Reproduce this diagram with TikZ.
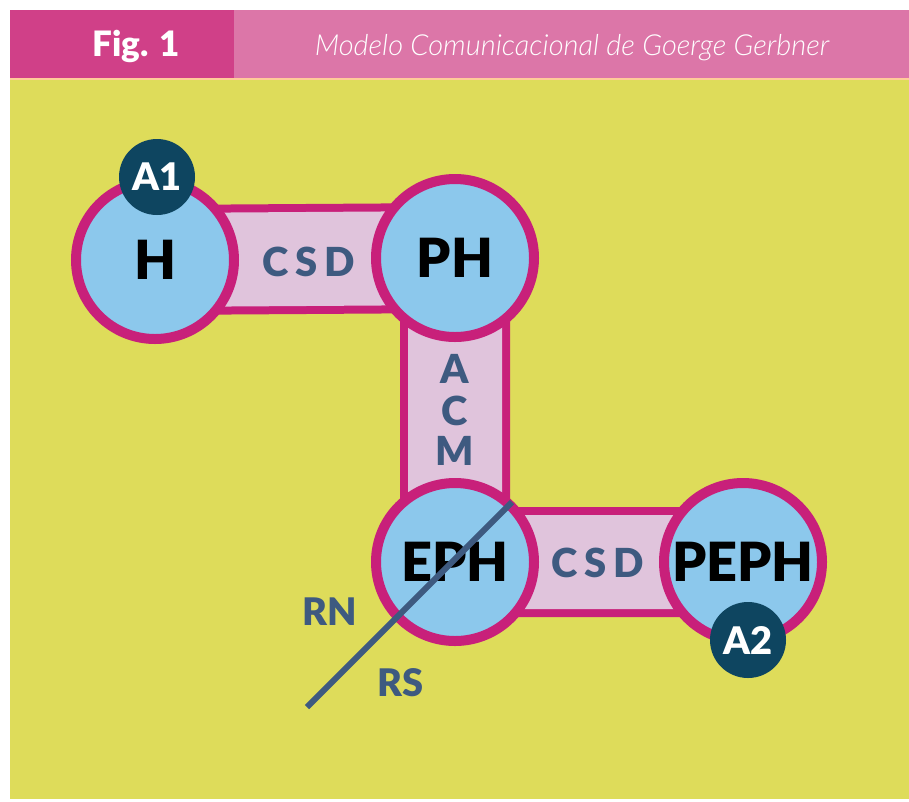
\documentclass[tikz,border=0pt]{standalone}
\usepackage{fontspec}
\usepackage{xcolor}
\usetikzlibrary{positioning}
\setmainfont{Lato}
\newfontfamily\heavyfont{Lato Black}
\newfontfamily\lightfont{Lato Light}
\definecolor{headdark}{HTML}{D04088}
\definecolor{headlight}{HTML}{DC76A8}
\definecolor{bgyellow}{HTML}{DEDC5A}
\definecolor{ballblue}{HTML}{8CC8EC}
\definecolor{rimpink}{HTML}{C8207A}
\definecolor{barpink}{HTML}{E0C4DC}
\definecolor{darkteal}{HTML}{0E4560}
\definecolor{slate}{HTML}{3E5A80}

\begin{document}
\begin{tikzpicture}[x=1pt, y=-1pt,
  ball/.style={circle, draw=rimpink, line width=10pt, fill=ballblue, minimum size=158pt, inner sep=0pt, font=\heavyfont\fontsize{54}{54}\selectfont, text=black},
  barrim/.style={draw=rimpink, line width=110pt},
  barfill/.style={draw=barpink, line width=94pt},
  badge/.style={circle, fill=darkteal, minimum size=76pt, inner sep=0pt, text=white, font=\heavyfont\fontsize{38}{38}\selectfont},
  barlabel/.style={text=slate, font=\heavyfont\fontsize{40}{40}\selectfont},
  sidelabel/.style={text=slate, font=\heavyfont\fontsize{38}{38}\selectfont}]
\useasboundingbox (0,0) rectangle (909,801);
\fill[white] (0,0) rectangle (909,801);
\fill[bgyellow] (10,79) rectangle (909,799);
\fill[headdark] (10,10) rectangle (234,79);
\fill[headlight] (234,10) rectangle (909,79);
\draw[orange!40, line width=1.5pt] (10,79) -- (909,79);
\node[text=white, font=\heavyfont\fontsize{35}{35}\selectfont] (fig) at (136,46) {Fig. 1};
\node[text=white, font=\lightfont\itshape\fontsize{29}{29}\selectfont] (title) at (572,48) {Modelo Comunicacional de Goerge Gerbner};

\coordinate (cH) at (155,260);
\coordinate (cPH) at (455,258);
\coordinate (cEPH) at (455,562);
\coordinate (cPEPH) at (743,562);

\draw[barrim] (cH) -- (cPH) -- (cEPH) -- (cPEPH);
\draw[barfill] (cH) -- (cPH) -- (cEPH) -- (cPEPH);

\node[ball] (H) at (cH) {H};
\node[ball] (PH) at (cPH) {PH};
\node[ball] (EPH) at (cEPH) {EPH};
\node[ball] (PEPH) at (cPEPH) {PEPH};

\node[barlabel] (csdtop) at (309,262) {C\,S\,D};
\node[barlabel, inner sep=0pt] (acmA) at (455,369) {A};
\node[barlabel, inner sep=0pt] (acmC) at (455,411) {C};
\node[barlabel, inner sep=0pt] (acmM) at (455,451) {M};
\node[barlabel] (csdlow) at (598,563) {C\,S\,D};

\coordinate (rnstart) at (512,502);
\coordinate (rnend) at (307,707);
\draw[slate, line width=6pt] (rnstart) -- (rnend);
\node[sidelabel] (RN) at (330,612) {RN};
\node[sidelabel] (RS) at (401,683) {RS};

\node[badge] (A1) at (157,177) {A1};
\node[badge] (A2) at (748,640) {A2};
\end{tikzpicture}
\end{document}
